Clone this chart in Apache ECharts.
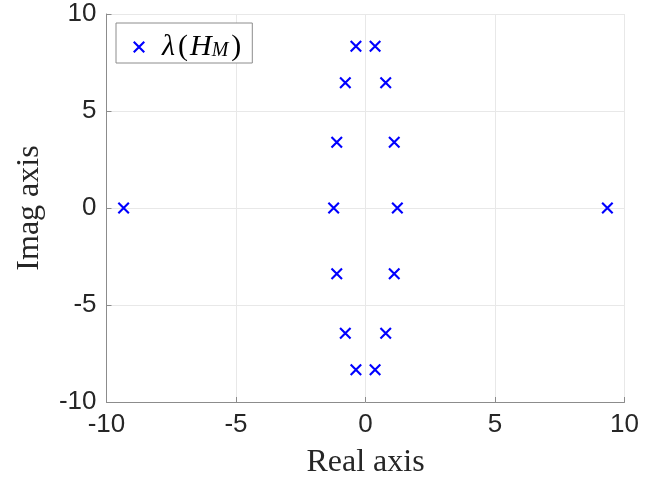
<!DOCTYPE html>
<html>
<head>
<meta charset="utf-8">
<script src="https://cdn.jsdelivr.net/npm/echarts@6/dist/echarts.min.js"></script>
<style>
  html, body { margin: 0; padding: 0; background: #fff; }
  #chart { width: 670px; height: 484px; }
</style>
</head>
<body>
<div id="chart"></div>
<script>
// Eigenvalues of H_M: real and imaginary parts
const realParts = [-9.34, 9.34, -1.23, 1.23, -1.11, 1.11, -1.11, 1.11, -0.78, 0.78, -0.78, 0.78, -0.37, 0.37, -0.37, 0.37];
const imagParts = [0, 0, 0, 0, 3.39, 3.39, -3.39, -3.39, 6.45, 6.45, -6.45, -6.45, 8.34, 8.34, -8.34, -8.34];
const axisTicks = [-10, -5, 0, 5, 10];
const seriesName = 'lambda';

const points = realParts.map((re, i) => [re, imagParts[i]]);

// cross marker as a filled outline (two overlapping bars)
const crossPath = 'path://M1.5,0 L12,10.5 L10.5,12 L0,1.5 Z M10.5,0 L12,1.5 L1.5,12 L0,10.5 Z';

const axisCommon = {
  type: 'value',
  min: axisTicks[0],
  max: axisTicks[axisTicks.length - 1],
  interval: axisTicks[1] - axisTicks[0],
  axisLine: { show: true, onZero: false, lineStyle: { color: '#8c8c8c', width: 1 } },
  axisTick: { show: true, inside: true, length: 5, lineStyle: { color: '#8c8c8c' } },
  splitLine: { show: true, lineStyle: { color: '#e8e8e8', width: 1 } },
  axisLabel: { fontFamily: 'Liberation Sans', fontSize: 26, color: '#262626', margin: 10 },
  nameLocation: 'middle',
  nameTextStyle: { fontFamily: 'Liberation Serif', fontSize: 32, color: '#262626' }
};

const chart = echarts.init(document.getElementById('chart'), null, { renderer: 'canvas' });
chart.setOption({
  animation: false,
  backgroundColor: '#ffffff',
  grid: { left: 106.5, right: 45.5, top: 14, bottom: 81.5, containLabel: false },
  xAxis: Object.assign({}, axisCommon, {
    name: 'Real axis',
    nameGap: 45
  }),
  yAxis: Object.assign({}, axisCommon, {
    name: 'Imag axis',
    nameGap: 61
  }),
  legend: {
    left: 116,
    top: 23,
    padding: [1, 11, 1, 17],
    backgroundColor: '#ffffff',
    borderColor: '#8c8c8c',
    borderWidth: 1,
    borderRadius: 0,
    itemWidth: 12,
    itemHeight: 12,
    itemGap: 0,
    data: [{ name: seriesName, icon: crossPath }],
    formatter: function () {
      return '{a|λ}{p|(}{h|H}{s|M}{p|)}';
    },
    textStyle: {
      padding: [0, 0, 0, 12],
      rich: {
        a: { fontFamily: 'Liberation Serif', fontStyle: 'italic', fontSize: 30, lineHeight: 28, color: '#000', padding: [0, 3, 0, 0] },
        h: { fontFamily: 'Liberation Serif', fontStyle: 'italic', fontSize: 30, lineHeight: 28, color: '#000', padding: [0, 0, 0, 2] },
        p: { fontFamily: 'Liberation Serif', fontSize: 30, lineHeight: 28, color: '#000' },
        s: { fontFamily: 'Liberation Serif', fontStyle: 'italic', fontSize: 20, lineHeight: 14, color: '#000', verticalAlign: 'bottom', padding: [17, 3, 0, 0] }
      }
    }
  },
  series: [{
    name: seriesName,
    type: 'scatter',
    data: points,
    symbol: crossPath,
    symbolSize: 12,
    itemStyle: { color: '#0000ff', opacity: 1 }
  }]
});
</script>
</body>
</html>
